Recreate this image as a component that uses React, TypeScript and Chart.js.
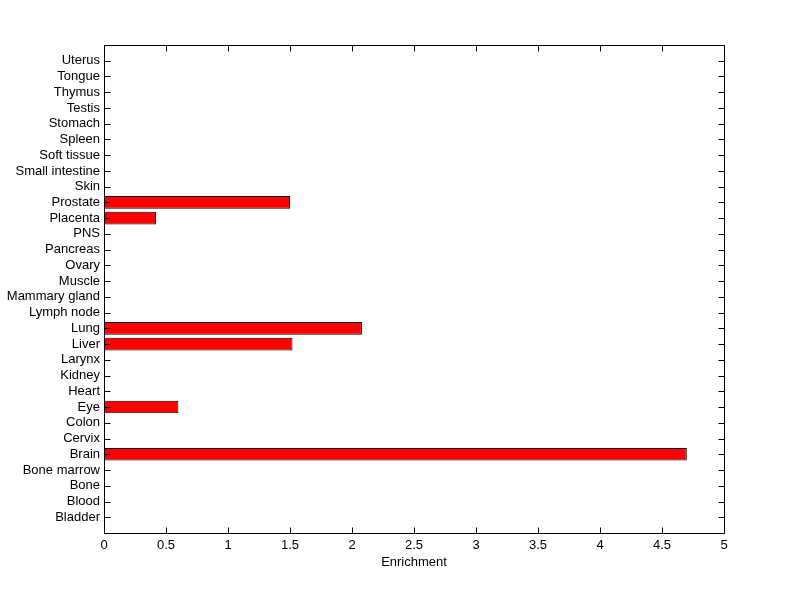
import React, { useEffect, useRef } from "react";
import { Chart, registerables } from "chart.js";

Chart.register(...registerables);

const categories = [
  "Bladder", "Blood", "Bone", "Bone marrow", "Brain", "Cervix", "Colon", "Eye",
  "Heart", "Kidney", "Larynx", "Liver", "Lung", "Lymph node", "Mammary gland",
  "Muscle", "Ovary", "Pancreas", "PNS", "Placenta", "Prostate", "Skin",
  "Small intestine", "Soft tissue", "Spleen", "Stomach", "Testis", "Thymus",
  "Tongue", "Uterus",
];
const enrichment = [
  0, 0, 0, 0, 4.7, 0, 0, 0.6,
  0, 0, 0, 1.52, 2.08, 0, 0,
  0, 0, 0, 0, 0.42, 1.5, 0,
  0, 0, 0, 0, 0, 0,
  0, 0,
];
const xTicks = [0, 0.5, 1, 1.5, 2, 2.5, 3, 3.5, 4, 4.5, 5];
const xTitle = "Enrichment";

const FONT = "'Liberation Sans', Arial, sans-serif";

const boxTicksPlugin = {
  id: "boxTicks",
  afterDraw(chart: any) {
    const { ctx, chartArea } = chart;
    const left = Math.round(chartArea.left) + 0.5;
    const right = Math.round(chartArea.right) + 0.5;
    const top = Math.round(chartArea.top) + 0.5;
    const bottom = Math.round(chartArea.bottom) + 0.5;
    const xs = chart.scales.x;
    const ys = chart.scales.y;
    ctx.save();
    ctx.strokeStyle = "#000";
    ctx.lineWidth = 1;
    ctx.beginPath();
    ctx.rect(left, top, right - left, bottom - top);
    ctx.stroke();
    const L = 6;
    ctx.beginPath();
    xTicks.forEach((v) => {
      const px = Math.round(xs.getPixelForValue(v)) + 0.5;
      ctx.moveTo(px, bottom);
      ctx.lineTo(px, bottom - L);
      ctx.moveTo(px, top);
      ctx.lineTo(px, top + L);
    });
    categories.forEach((_, i) => {
      const py = Math.round(ys.getPixelForValue(i + 1)) + 0.5;
      ctx.moveTo(left, py);
      ctx.lineTo(left + L, py);
      ctx.moveTo(right, py);
      ctx.lineTo(right - L, py);
    });
    ctx.stroke();
    ctx.restore();
  },
};

export default function App() {
  const ref = useRef<HTMLCanvasElement | null>(null);
  useEffect(() => {
    if (!ref.current) return;
    const chart = new Chart(ref.current, {
      type: "bar",
      data: {
        datasets: [
          {
            data: enrichment.map((v, i) => ({ x: v, y: i + 1 })),
            backgroundColor: "#ff0000",
            borderColor: "#000000",
            borderWidth: 1,
            borderSkipped: false,
            barPercentage: 0.8,
            categoryPercentage: 1,
          },
        ],
      },
      options: {
        indexAxis: "y",
        animation: false,
        responsive: false,
        maintainAspectRatio: false,
        layout: { padding: { top: 45, right: 76, left: 0, bottom: 0 } },
        plugins: { legend: { display: false }, tooltip: { enabled: false } },
        scales: {
          x: {
            type: "linear",
            min: 0,
            max: 5,
            offset: false,
            afterBuildTicks: (s: any) => {
              s.ticks = xTicks.map((v) => ({ value: v }));
            },
            afterFit: (s: any) => {
              s.height = 66;
            },
            grid: { display: false, drawTicks: false },
            border: { display: false },
            ticks: {
              color: "#000",
              font: { family: FONT, size: 13 },
              padding: 5,
              maxRotation: 0,
              callback: (v: any) => String(v),
            },
            title: {
              display: true,
              text: xTitle,
              color: "#000",
              font: { family: FONT, size: 13 },
              padding: { top: 0, bottom: 29 },
            },
          },
          y: {
            type: "linear",
            min: 0,
            max: 31,
            offset: false,
            afterBuildTicks: (s: any) => {
              s.ticks = categories.map((_, i) => ({ value: i + 1 }));
            },
            afterFit: (s: any) => {
              s.width = 104;
            },
            grid: { display: false, drawTicks: false },
            border: { display: false },
            ticks: {
              color: "#000",
              font: { family: FONT, size: 13 },
              padding: 4,
              autoSkip: false,
              callback: (v: any) => categories[Number(v) - 1] ?? "",
            },
          },
        },
      },
      plugins: [boxTicksPlugin],
    });
    return () => chart.destroy();
  }, []);
  return (
    <div style={{ position: "absolute", left: 0, top: 0, width: 800, height: 599, background: "#fff" }}>
      <canvas ref={ref} width={800} height={599} style={{ width: 800, height: 599 }} />
    </div>
  );
}
